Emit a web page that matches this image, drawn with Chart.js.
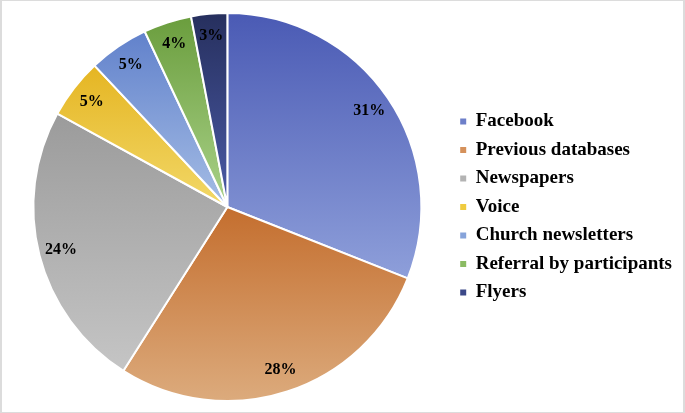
<!DOCTYPE html>
<html>
<head>
<meta charset="utf-8">
<script src="https://cdn.jsdelivr.net/npm/chart.js@4.4.0/dist/chart.umd.min.js"></script>
<style>
  html, body { margin: 0; padding: 0; background: #fff; }
  #wrap { position: relative; width: 685px; height: 413px; }
  #wrap::after {
    content: ''; position: absolute; left: 0; top: 0; right: 0; bottom: 0;
    border: 1px solid #dcdcdc; border-left-width: 2px; border-right-width: 2px;
    pointer-events: none;
  }
</style>
</head>
<body>
<div id="wrap"><canvas id="sourcesChart"></canvas></div>
<script>
const sources = ['Facebook', 'Previous databases', 'Newspapers', 'Voice',
  'Church newsletters', 'Referral by participants', 'Flyers'];
const shares = [31, 28, 24, 5, 5, 4, 3];

const topColors = ['#4a5ab4', '#c46e2e', '#9b9b9b', '#e5b522', '#6181cb', '#6a9d3d', '#262f5d'];
const bottomColors = ['#8e9fda', '#dcab7d', '#c5c5c5', '#f2d868', '#a5bde5', '#aad289', '#4b5ba7'];
const legendColors = ['#6d7fc9', '#d5915b', '#b3b3b3', '#efcb3f', '#86a3da', '#8bbb63', '#3b4888'];

const serif = "'Liberation Serif', 'Times New Roman', serif";

// vertical gradient per slice, spanning the slice's own height
function sliceGradient(ctx) {
  const chart = ctx.chart;
  const area = chart.chartArea;
  const i = ctx.dataIndex;
  if (!area) return legendColors[i];
  const cx = (area.left + area.right) / 2;
  const cy = (area.top + area.bottom) / 2;
  const r = Math.min(area.right - area.left, area.bottom - area.top) / 2;
  const total = shares.reduce((a, b) => a + b, 0);
  let before = 0;
  for (let j = 0; j < i; j++) before += shares[j];
  const a0 = -Math.PI / 2 + before / total * 2 * Math.PI;
  const a1 = a0 + shares[i] / total * 2 * Math.PI;
  const ys = [cy, cy + r * Math.sin(a0), cy + r * Math.sin(a1)];
  [Math.PI / 2, 3 * Math.PI / 2].forEach(a => {
    if (a >= a0 && a <= a1) ys.push(cy + r * Math.sin(a));
  });
  const g = chart.ctx.createLinearGradient(0, Math.min(...ys), 0, Math.max(...ys));
  g.addColorStop(0, topColors[i]);
  g.addColorStop(1, bottomColors[i]);
  return g;
}

const percentLabels = {
  id: 'percentLabels',
  afterDatasetsDraw(chart) {
    const ctx = chart.ctx;
    ctx.save();
    ctx.font = 'bold 16px ' + serif;
    ctx.fillStyle = '#000';
    ctx.textAlign = 'center';
    ctx.textBaseline = 'middle';
    chart.getDatasetMeta(0).data.forEach((arc, i) => {
      const mid = (arc.startAngle + arc.endAngle) / 2;
      const rr = arc.outerRadius * 0.885;
      ctx.fillText(shares[i] + '%', arc.x + Math.cos(mid) * rr, arc.y + Math.sin(mid) * rr);
    });
    ctx.restore();
  }
};

new Chart(document.getElementById('sourcesChart'), {
  type: 'pie',
  data: {
    labels: sources,
    datasets: [{
      data: shares,
      backgroundColor: sliceGradient,
      borderColor: '#ffffff',
      borderWidth: 2
    }]
  },
  options: {
    responsive: true,
    maintainAspectRatio: false,
    animation: false,
    layout: { padding: { top: 12, bottom: 11, left: 4, right: 3 } },
    plugins: {
      tooltip: { enabled: false },
      legend: {
        position: 'right',
        align: 'center',
        labels: {
          boxWidth: 6,
          boxHeight: 6,
          padding: 9.5,
          color: '#000',
          font: { family: serif, size: 19, weight: 'bold' },
          generateLabels: chart => sources.map((s, i) => ({
            text: s,
            fillStyle: legendColors[i],
            strokeStyle: legendColors[i],
            lineWidth: 0,
            hidden: false,
            index: i
          }))
        }
      }
    }
  },
  plugins: [percentLabels]
});
</script>
</body>
</html>
